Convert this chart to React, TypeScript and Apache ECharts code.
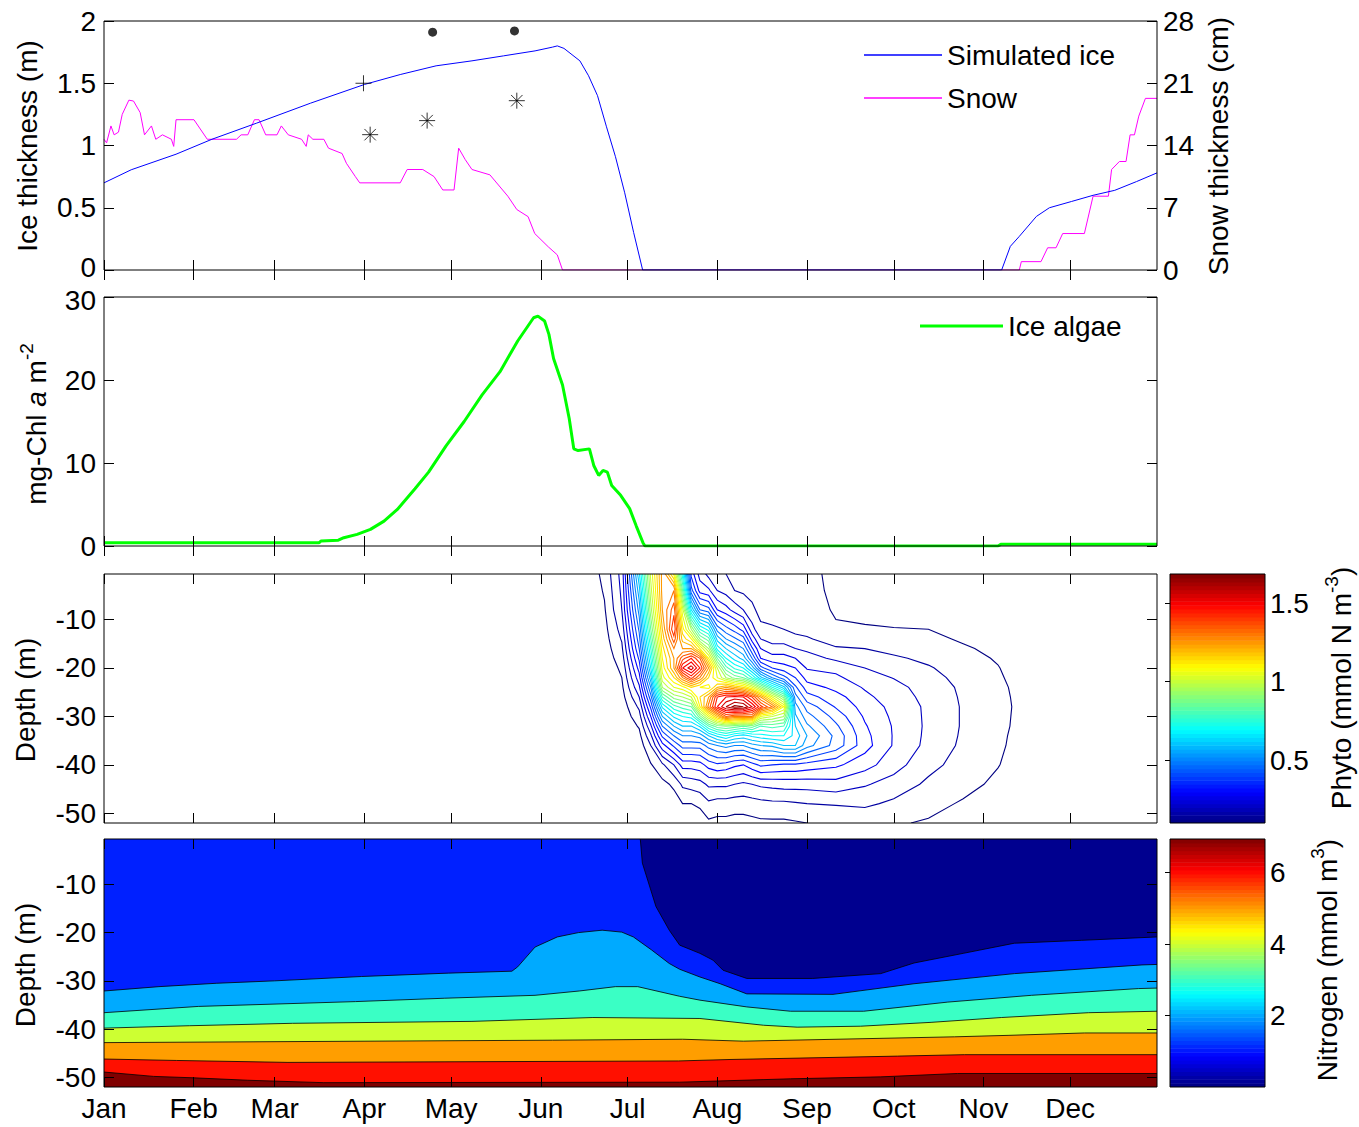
import React, { useEffect, useRef } from 'react';
import * as echarts from 'echarts';

const FONT = '"Liberation Sans", Arial, Helvetica, sans-serif';
const FS = 28;

// ---------- shared x axis (day of year) ----------
const MONTH_TICKS = [1, 32, 60, 91, 121, 152, 182, 213, 244, 274, 305, 335];
const MONTH_LABELS = ['Jan', 'Feb', 'Mar', 'Apr', 'May', 'Jun', 'Jul', 'Aug', 'Sep', 'Oct', 'Nov', 'Dec'];

// ---------- panel 1: ice & snow ----------
const ICE_DAYS = [1, 10.4, 25.9, 38.3, 53.8, 72.4, 91, 103.4, 115.8, 128.2, 139.1, 150, 156, 157.7, 160, 165.5, 168.5, 171.6, 174.7, 177.8, 181, 184.1, 187.2, 311.3, 314.3, 317.4, 323.3, 327.8, 335.4, 342.9, 350.4, 357.9, 365];
const ICE_M = [0.70, 0.805, 0.93, 1.05, 1.18, 1.34, 1.49, 1.57, 1.64, 1.68, 1.72, 1.76, 1.79, 1.80, 1.78, 1.68, 1.56, 1.40, 1.15, 0.91, 0.62, 0.30, 0, 0, 0.19, 0.27, 0.43, 0.50, 0.55, 0.60, 0.64, 0.71, 0.78];

const SNOW_DAYS = [1, 1.9, 3.4, 4.5, 6, 7.3, 9.6, 11.2, 13.5, 15, 17.4, 18.9, 21.2, 24.3, 25.1, 25.9, 32.1, 36.7, 46.8, 48.4, 50.7, 53, 54.6, 56.9, 60.8, 62.3, 64.7, 69.3, 70.9, 71.6, 73.2, 77, 78.6, 83.3, 84.8, 87.9, 89.4, 103.4, 105.8, 111.2, 115.1, 118.1, 122, 123.6, 125.9, 128.2, 134.4, 140.6, 143.7, 147.6, 149.9, 154.6, 157.7, 159.5, 317.4, 318.1, 324.9, 327.2, 330.1, 332.4, 339.9, 342.9, 348.2, 349.3, 352, 354.3, 355.7, 357.2, 358.7, 361, 365];
const SNOW_CM = [14.7, 14.3, 16.2, 15.2, 15.5, 17.5, 19.1, 19.0, 17.7, 15.2, 16.2, 14.7, 15.2, 14.7, 13.9, 16.9, 16.9, 14.7, 14.7, 15.2, 15.2, 16.9, 16.9, 15.2, 15.2, 16.2, 15.2, 14.7, 13.9, 15.2, 14.7, 14.7, 13.7, 13.1, 12.0, 10.5, 9.8, 9.8, 11.3, 11.3, 10.5, 9.0, 9.0, 13.7, 12.4, 11.3, 10.7, 8.3, 6.8, 6.0, 4.1, 2.6, 1.7, 0, 0, 0.94, 0.94, 2.5, 2.5, 4.1, 4.1, 8.3, 8.3, 11.3, 12.2, 12.2, 15.2, 15.2, 17.3, 19.3, 19.3];

const OBS_DOT_DAYS = [114.6, 142.9];
const OBS_DOT_M = [1.91, 1.92];
const OBS_PLUS_DAYS = [90.7];
const OBS_PLUS_M = [1.50];
const OBS_STAR_DAYS = [93.0, 112.7, 143.7];
const OBS_STAR_M = [1.087, 1.20, 1.36];

// ---------- panel 2: ice algae ----------
const ALGAE_DAYS = [1, 75.4, 76, 82, 83.9, 88.5, 93.1, 97.8, 102.4, 108.5, 113.2, 119.3, 125.5, 131.7, 137.9, 144, 149.5, 151, 153.3, 154.8, 156.4, 159.5, 161.8, 163.4, 164.9, 168.8, 170.3, 172, 173.5, 175, 176.5, 179.6, 182.7, 185, 187.3, 188, 310, 311, 365];
const ALGAE_CHL = [0.4, 0.4, 0.6, 0.7, 1.0, 1.4, 2.0, 3.0, 4.4, 6.9, 8.9, 12.1, 15.0, 18.2, 21.0, 24.7, 27.5, 27.7, 27.1, 25.5, 22.6, 19.4, 15.4, 11.7, 11.5, 11.7, 9.7, 8.5, 9.1, 8.9, 7.3, 6.1, 4.5, 2.4, 0.4, 0, 0, 0.2, 0.2];

// ---------- panel 3: phytoplankton field (one array per day column, values down the depth rows) ----------
const PHYTO_DAYS = [168, 174, 180, 186, 190, 194, 198, 201, 204, 207, 210, 213, 216, 219, 222, 225, 228, 232, 236, 240, 244, 254, 264, 274, 286, 298, 310, 318, 326];
const PHYTO_DEPTHS = [0, -4, -8, -12, -14, -16, -18, -20, -22, -24, -26, -28, -30, -32, -34, -36, -40, -44, -48, -52];
const PHYTO_GRID = [
  [0.07, 0.065, 0.06, 0.055, 0.052, 0.05, 0.048, 0.045, 0.043, 0.04, 0.038, 0.035, 0.033, 0.03, 0.03, 0.03, 0.03, 0.03, 0.03, 0.03],
  [0.115, 0.105, 0.095, 0.085, 0.08, 0.075, 0.07, 0.065, 0.06, 0.055, 0.052, 0.05, 0.045, 0.04, 0.04, 0.04, 0.035, 0.035, 0.03, 0.03],
  [0.22, 0.21, 0.2, 0.17, 0.155, 0.14, 0.125, 0.11, 0.1, 0.09, 0.08, 0.07, 0.065, 0.06, 0.055, 0.05, 0.045, 0.04, 0.035, 0.03],
  [0.65, 0.58, 0.52, 0.46, 0.43, 0.4, 0.36, 0.32, 0.28, 0.24, 0.2, 0.16, 0.13, 0.105, 0.085, 0.07, 0.055, 0.045, 0.04, 0.035],
  [1.02, 0.98, 0.93, 0.85, 0.8, 0.75, 0.7, 0.65, 0.58, 0.5, 0.43, 0.36, 0.3, 0.24, 0.19, 0.15, 0.095, 0.07, 0.05, 0.045],
  [1.27, 1.27, 1.25, 1.2, 1.17, 1.13, 1.1, 1.07, 1.03, 0.95, 0.8, 0.66, 0.55, 0.45, 0.36, 0.28, 0.14, 0.085, 0.06, 0.045],
  [1.05, 1.3, 1.38, 1.45, 1.38, 1.3, 1.25, 1.25, 1.15, 1.05, 0.92, 0.78, 0.66, 0.55, 0.45, 0.36, 0.2, 0.11, 0.075, 0.055],
  [0.7, 0.85, 1.02, 1.12, 1.18, 1.25, 1.38, 1.5, 1.3, 1.08, 0.95, 0.82, 0.7, 0.6, 0.5, 0.42, 0.27, 0.16, 0.1, 0.065],
  [0.32, 0.42, 0.65, 0.95, 1.1, 1.25, 1.45, 1.58, 1.42, 1.15, 1.0, 0.85, 0.72, 0.6, 0.5, 0.42, 0.27, 0.17, 0.1, 0.065],
  [0.22, 0.28, 0.45, 0.75, 0.9, 1.1, 1.35, 1.45, 1.3, 1.1, 1.15, 1.1, 0.88, 0.66, 0.52, 0.42, 0.28, 0.18, 0.11, 0.07],
  [0.17, 0.26, 0.42, 0.68, 0.82, 0.95, 1.1, 1.25, 1.15, 1.08, 1.25, 1.32, 1.05, 0.8, 0.6, 0.47, 0.32, 0.21, 0.14, 0.09],
  [0.16, 0.2, 0.3, 0.48, 0.58, 0.68, 0.85, 1.0, 1.05, 1.2, 1.45, 1.5, 1.2, 0.88, 0.66, 0.5, 0.34, 0.21, 0.13, 0.085],
  [0.145, 0.18, 0.27, 0.42, 0.5, 0.6, 0.7, 0.82, 0.95, 1.25, 1.5, 1.6, 1.35, 0.9, 0.7, 0.52, 0.33, 0.21, 0.13, 0.085],
  [0.14, 0.15, 0.23, 0.38, 0.46, 0.55, 0.63, 0.74, 0.88, 1.2, 1.52, 1.67, 1.3, 0.88, 0.65, 0.5, 0.31, 0.2, 0.125, 0.08],
  [0.135, 0.14, 0.2, 0.33, 0.42, 0.5, 0.58, 0.7, 0.85, 1.15, 1.5, 1.65, 1.3, 0.85, 0.63, 0.5, 0.3, 0.19, 0.125, 0.08],
  [0.13, 0.135, 0.16, 0.22, 0.28, 0.36, 0.45, 0.58, 0.75, 1.05, 1.4, 1.55, 1.3, 0.88, 0.66, 0.53, 0.33, 0.2, 0.13, 0.085],
  [0.125, 0.13, 0.135, 0.16, 0.2, 0.25, 0.3, 0.42, 0.62, 0.92, 1.25, 1.42, 1.05, 0.8, 0.68, 0.55, 0.36, 0.21, 0.135, 0.09],
  [0.122, 0.127, 0.132, 0.155, 0.18, 0.22, 0.27, 0.35, 0.5, 0.75, 1.05, 1.3, 1.0, 0.82, 0.7, 0.56, 0.35, 0.215, 0.14, 0.09],
  [0.12, 0.125, 0.13, 0.15, 0.18, 0.22, 0.27, 0.32, 0.42, 0.62, 0.88, 1.1, 0.95, 0.8, 0.7, 0.6, 0.34, 0.22, 0.14, 0.09],
  [0.115, 0.12, 0.125, 0.14, 0.16, 0.2, 0.25, 0.3, 0.35, 0.41, 0.47, 0.52, 0.56, 0.6, 0.63, 0.6, 0.34, 0.22, 0.145, 0.095],
  [0.11, 0.115, 0.12, 0.135, 0.155, 0.19, 0.22, 0.245, 0.28, 0.325, 0.37, 0.43, 0.47, 0.51, 0.55, 0.52, 0.33, 0.22, 0.15, 0.1],
  [0.09, 0.09, 0.095, 0.105, 0.13, 0.155, 0.19, 0.235, 0.26, 0.285, 0.32, 0.345, 0.38, 0.41, 0.435, 0.43, 0.31, 0.23, 0.155, 0.1],
  [0.08, 0.08, 0.085, 0.105, 0.128, 0.15, 0.175, 0.2, 0.222, 0.245, 0.262, 0.28, 0.293, 0.305, 0.315, 0.32, 0.27, 0.205, 0.16, 0.11],
  [0.075, 0.075, 0.08, 0.102, 0.118, 0.135, 0.158, 0.18, 0.198, 0.215, 0.225, 0.235, 0.24, 0.245, 0.246, 0.245, 0.22, 0.18, 0.14, 0.105],
  [0.07, 0.07, 0.075, 0.1, 0.11, 0.12, 0.138, 0.155, 0.168, 0.18, 0.185, 0.19, 0.19, 0.19, 0.188, 0.185, 0.165, 0.14, 0.115, 0.095],
  [0.06, 0.06, 0.065, 0.085, 0.095, 0.105, 0.115, 0.125, 0.133, 0.14, 0.143, 0.145, 0.145, 0.145, 0.143, 0.14, 0.13, 0.115, 0.095, 0.08],
  [0.05, 0.05, 0.055, 0.07, 0.08, 0.09, 0.096, 0.102, 0.106, 0.11, 0.113, 0.115, 0.114, 0.113, 0.11, 0.108, 0.102, 0.09, 0.075, 0.065],
  [0.04, 0.04, 0.045, 0.055, 0.062, 0.07, 0.075, 0.08, 0.084, 0.088, 0.089, 0.09, 0.089, 0.088, 0.086, 0.085, 0.08, 0.07, 0.06, 0.05],
  [0.03, 0.03, 0.035, 0.04, 0.045, 0.05, 0.055, 0.06, 0.062, 0.065, 0.068, 0.07, 0.069, 0.068, 0.066, 0.065, 0.06, 0.055, 0.045, 0.04],
];
const PHYTO_LEVELS = [0.1, 0.15, 0.2, 0.25, 0.3, 0.35, 0.4, 0.45, 0.5, 0.55, 0.6, 0.65, 0.7, 0.75, 0.8, 0.85, 0.9, 0.95, 1.0, 1.05, 1.1, 1.15, 1.2, 1.25, 1.3, 1.35, 1.4, 1.45, 1.5, 1.55, 1.6, 1.65];
const PHYTO_RANGE = [0.098, 1.687];
const PHYTO_CBAR_TICKS = [0.5, 1, 1.5];

// ---------- panel 4: nitrogen filled contours (level boundaries: [day, depth]) ----------
const NITRO_B1 = [[186.3, 0], [187.1, -5.6], [191.8, -14.6], [196.4, -19.5], [200, -22.6], [207, -24.3], [211.5, -25.7], [215, -27.8], [223.2, -29.5], [246, -29.5], [269.5, -28.5], [281, -26.3], [298, -24.3], [315.7, -22.2], [339, -21.6], [365, -20.9]];
const NITRO_B2 = [[1, -32.1], [20, -31.2], [40, -30.5], [60, -30.0], [90, -29.1], [120, -28.4], [142, -28.0], [144, -27.1], [150, -23.0], [157.7, -20.9], [165, -20.0], [173.2, -19.5], [180, -19.9], [184, -20.9], [190.3, -23.6], [196.4, -26.4], [200, -27.6], [207, -29.2], [214, -30.6], [223.2, -32.7], [253, -32.8], [281, -30.6], [315.7, -28.5], [359.8, -26.7], [365, -26.6]];
const NITRO_B3 = [[1, -36.6], [33.6, -35.3], [87.9, -34.3], [118.8, -33.6], [150, -33.0], [165.3, -32.1], [177.8, -31.2], [185.5, -31.2], [200, -33.2], [207, -34.0], [223.2, -35.4], [238.3, -36.3], [263.6, -36.3], [292.7, -34.4], [321.6, -33.0], [358.6, -31.6], [365, -31.5]];
const NITRO_B4 = [[1, -39.8], [30.5, -39.3], [66.2, -38.8], [128.2, -38.4], [170, -37.6], [207, -37.8], [229, -39.2], [240.6, -39.6], [262.5, -39.4], [286.9, -38.6], [311.2, -37.6], [341.3, -36.6], [365, -36.3]];
const NITRO_B5 = [[1, -42.8], [156, -42.3], [201, -42.1], [222, -42.5], [295, -41.6], [313.5, -41.3], [340, -40.8], [365, -40.8]];
const NITRO_B6 = [[1, -46.2], [26, -46.5], [64.6, -46.9], [199.6, -46.6], [217.4, -46.3], [275.3, -45.6], [298.4, -45.3], [365, -45.3]];
const NITRO_B7 = [[1, -48.9], [18.1, -49.8], [32.1, -50.1], [50.7, -50.6], [77, -51.1], [200, -51.0], [238.3, -50.3], [269.5, -49.9], [296, -49.2], [365, -49.2]];
const NITRO_BOUNDARIES = [NITRO_B1, NITRO_B2, NITRO_B3, NITRO_B4, NITRO_B5, NITRO_B6, NITRO_B7];
const NITRO_COLORS = ['#00008F', '#0020FF', '#00AAFF', '#3AFFC5', '#CDFF32', '#FF9E00', '#FF1000', '#800000'];
const NITRO_RANGE = [0, 6.94];
const NITRO_CBAR_TICKS = [2, 4, 6];

const DEPTH_TICKS = [-50, -40, -30, -20, -10];
const DEPTH_MIN = -52;
const DEPTH_MAX = -0.6;

// ---------- helpers ----------
function jet(t: number): string {
  const x = Math.max(0, Math.min(1, t));
  const c = (v: number) => Math.round(255 * Math.max(0, Math.min(1, v)));
  const r = c(Math.min(4 * x - 1.5, -4 * x + 4.5));
  const g = c(Math.min(4 * x - 0.5, -4 * x + 3.5));
  const b = c(Math.min(4 * x + 0.5, -4 * x + 2.5));
  return `rgb(${r},${g},${b})`;
}

const zip = (xs: number[], ys: number[]) => xs.map((x, i) => [x, ys[i]]);

function contourSegments(level: number) {
  const G = PHYTO_GRID;
  const segs: number[][][] = [];
  const hEdge = (i: number, j: number) => {
    const v1 = G[i][j], v2 = G[i + 1][j];
    const t = (level - v1) / (v2 - v1);
    return [PHYTO_DAYS[i] + t * (PHYTO_DAYS[i + 1] - PHYTO_DAYS[i]), PHYTO_DEPTHS[j]];
  };
  const vEdge = (i: number, j: number) => {
    const v1 = G[i][j], v2 = G[i][j + 1];
    const t = (level - v1) / (v2 - v1);
    return [PHYTO_DAYS[i], PHYTO_DEPTHS[j] + t * (PHYTO_DEPTHS[j + 1] - PHYTO_DEPTHS[j])];
  };
  for (let i = 0; i < PHYTO_DAYS.length - 1; i++) {
    for (let j = 0; j < PHYTO_DEPTHS.length - 1; j++) {
      const a = G[i][j], b = G[i + 1][j], c = G[i + 1][j + 1], d = G[i][j + 1];
      const A = a >= level, B = b >= level, C = c >= level, D = d >= level;
      const top = A !== B ? hEdge(i, j) : null;
      const right = B !== C ? vEdge(i + 1, j) : null;
      const bottom = D !== C ? hEdge(i, j + 1) : null;
      const left = A !== D ? vEdge(i, j) : null;
      const list = [top, right, bottom, left].filter(Boolean) as number[][];
      if (list.length === 2) segs.push(list);
      else if (list.length === 4) {
        const center = (a + b + c + d) / 4 >= level;
        if (A && C) {
          if (center) { segs.push([top!, right!]); segs.push([bottom!, left!]); }
          else { segs.push([top!, left!]); segs.push([right!, bottom!]); }
        } else {
          if (center) { segs.push([top!, left!]); segs.push([right!, bottom!]); }
          else { segs.push([top!, right!]); segs.push([bottom!, left!]); }
        }
      }
    }
  }
  return segs;
}

function chainSegments(segs: number[][][]) {
  const key = (p: number[]) => p[0].toFixed(5) + ',' + p[1].toFixed(5);
  const adj = new Map<string, number[]>();
  segs.forEach((s, idx) => {
    for (const p of s) {
      const k = key(p);
      if (!adj.has(k)) adj.set(k, []);
      adj.get(k)!.push(idx);
    }
  });
  const used = new Array(segs.length).fill(false);
  const lines: number[][][] = [];
  for (let i = 0; i < segs.length; i++) {
    if (used[i]) continue;
    used[i] = true;
    const line = [segs[i][0], segs[i][1]];
    const extend = (atEnd: boolean) => {
      for (;;) {
        const end = atEnd ? line[line.length - 1] : line[0];
        const ek = key(end);
        const cands = adj.get(ek) || [];
        let next = -1;
        for (const c of cands) if (!used[c]) { next = c; break; }
        if (next < 0) break;
        used[next] = true;
        const s = segs[next];
        const other = key(s[0]) === ek ? s[1] : s[0];
        if (atEnd) line.push(other); else line.unshift(other);
      }
    };
    extend(true);
    extend(false);
    lines.push(line);
  }
  return lines;
}

// ---------- axes builders ----------
const TICK_LINE = { color: '#000', width: 1 };
const LABEL = { color: '#000', fontSize: FS, fontFamily: FONT };
const RICH_BASE = { fontSize: FS, fontFamily: FONT, color: '#000' };

function monthAxis(grid: number, position: string, labels: boolean) {
  return {
    type: 'value', gridIndex: grid, position, min: 1, max: 365, z: 10,
    axisLine: { show: false },
    axisTick: { show: true, inside: true, length: 10, lineStyle: TICK_LINE, customValues: MONTH_TICKS },
    axisLabel: labels
      ? { ...LABEL, margin: 7, customValues: MONTH_TICKS, formatter: (v: number) => MONTH_LABELS[MONTH_TICKS.indexOf(v)] ?? '' }
      : { show: false },
    splitLine: { show: false },
  };
}

function valueAxis(grid: number, position: string, min: number, max: number, interval: number, labels: boolean, extraLabel?: any) {
  return {
    type: 'value', gridIndex: grid, position, min, max, interval, z: 10,
    axisLine: { show: false },
    axisTick: { show: true, inside: true, length: 10, lineStyle: TICK_LINE },
    axisLabel: labels ? { ...LABEL, margin: position === 'left' ? 8 : 6, ...(extraLabel || {}) } : { show: false },
    splitLine: { show: false },
  };
}

function depthAxis(grid: number, position: string, labels: boolean) {
  return {
    type: 'value', gridIndex: grid, position, min: DEPTH_MIN, max: DEPTH_MAX, z: 10,
    axisLine: { show: false },
    axisTick: { show: true, inside: true, length: 10, lineStyle: TICK_LINE, customValues: DEPTH_TICKS },
    axisLabel: labels ? { ...LABEL, margin: 8, customValues: DEPTH_TICKS } : { show: false },
    splitLine: { show: false },
  };
}

function cbarAxis(grid: number, range: number[], ticks: number[]) {
  return {
    type: 'value', gridIndex: grid, position: 'right', min: range[0], max: range[1], z: 10,
    axisLine: { show: false },
    axisTick: { show: true, inside: true, length: 5, lineStyle: TICK_LINE, customValues: ticks },
    axisLabel: { ...LABEL, margin: 5, customValues: ticks },
    splitLine: { show: false },
  };
}

function colorbarSeries(xi: number, yi: number, range: number[]) {
  return {
    type: 'custom', xAxisIndex: xi, yAxisIndex: yi, silent: true, clip: true,
    data: [[0.5, (range[0] + range[1]) / 2]],
    renderItem: (params: any, api: any) => {
      const n = 64;
      const children: any[] = [];
      for (let k = 0; k < n; k++) {
        const v0 = range[0] + ((range[1] - range[0]) * k) / n;
        const v1 = range[0] + ((range[1] - range[0]) * (k + 1)) / n;
        const p0 = api.coord([0, v1]);
        const p1 = api.coord([1, v0]);
        children.push({
          type: 'rect',
          shape: { x: p0[0], y: p0[1], width: p1[0] - p0[0], height: p1[1] - p0[1] + 0.6 },
          style: { fill: jet((k + 0.5) / n) },
        });
      }
      return { type: 'group', children };
    },
  };
}

function vText(x: number, y: number, text: string, rich?: any) {
  return {
    type: 'text', x, y, rotation: Math.PI / 2, silent: true,
    style: {
      text, fill: '#000', fontSize: FS, fontFamily: FONT,
      align: 'center', verticalAlign: 'middle', textAlign: 'center', textVerticalAlign: 'middle',
      rich,
    },
  };
}

const SUP_RICH = {
  n: { fontSize: FS, fontFamily: FONT, lineHeight: 38, fill: '#000', color: '#000' },
  i: { fontSize: FS, fontFamily: FONT, fontStyle: 'italic', lineHeight: 38, fill: '#000', color: '#000' },
  s: { fontSize: 19, fontFamily: FONT, lineHeight: 19, verticalAlign: 'top', fill: '#000', color: '#000' },
};

function buildOption(): any {
  const grids = [
    { left: 104, top: 21, width: 1053, height: 249 },
    { left: 104, top: 297, width: 1053, height: 249 },
    { left: 104, top: 574, width: 1053, height: 249 },
    { left: 104, top: 839, width: 1053, height: 248 },
    { left: 1170, top: 574, width: 95, height: 249 },
    { left: 1170, top: 839, width: 95, height: 248 },
  ].map((g) => ({ ...g, show: true, z: 10, borderColor: '#000', borderWidth: 1, backgroundColor: 'transparent' }));

  const xAxis: any[] = [];
  for (let g = 0; g < 4; g++) xAxis.push(monthAxis(g, 'bottom', g === 3));
  for (let g = 0; g < 4; g++) xAxis.push(monthAxis(g, 'top', false));
  xAxis.push({ type: 'value', gridIndex: 4, min: 0, max: 1, show: false });
  xAxis.push({ type: 'value', gridIndex: 5, min: 0, max: 1, show: false });

  // the two labels that meet at the panel 1 / panel 2 boundary are nudged apart slightly
  const iceLabel = {
    formatter: (v: number) => (v === 0 ? '{lo|0}' : String(v)),
    rich: { lo: { ...RICH_BASE, padding: [0, 0, 6, 0] } },
  };
  const chlLabel = {
    formatter: (v: number) => (v === 30 ? '{hi|30}' : String(v)),
    rich: { hi: { ...RICH_BASE, padding: [6, 0, 0, 0] } },
  };

  const yAxis: any[] = [
    valueAxis(0, 'left', 0, 2, 0.5, true, iceLabel),
    valueAxis(0, 'right', 0, 28, 7, true),
    valueAxis(1, 'left', 0, 30, 10, true, chlLabel),
    valueAxis(1, 'right', 0, 30, 10, false),
    depthAxis(2, 'left', true),
    depthAxis(2, 'right', false),
    depthAxis(3, 'left', true),
    depthAxis(3, 'right', false),
    cbarAxis(4, PHYTO_RANGE, PHYTO_CBAR_TICKS),
    cbarAxis(5, NITRO_RANGE, NITRO_CBAR_TICKS),
  ];

  const asterisk = 'path://M8,0L8,16M0,8L16,8M2.3,2.3L13.7,13.7M2.3,13.7L13.7,2.3';
  const plus = 'path://M8,0L8,16M0,8L16,8';

  const series: any[] = [
    {
      name: 'Simulated ice', type: 'line', xAxisIndex: 0, yAxisIndex: 0, data: zip(ICE_DAYS, ICE_M),
      symbol: 'none', color: '#0000FF', lineStyle: { color: '#0000FF', width: 1 }, z: 3,
    },
    {
      name: 'Snow', type: 'line', xAxisIndex: 0, yAxisIndex: 1, data: zip(SNOW_DAYS, SNOW_CM),
      symbol: 'none', color: '#FF00FF', lineStyle: { color: '#FF00FF', width: 1 }, z: 2,
    },
    {
      name: 'obs-dot', type: 'scatter', xAxisIndex: 0, yAxisIndex: 0, data: zip(OBS_DOT_DAYS, OBS_DOT_M),
      symbol: 'circle', symbolSize: 9, itemStyle: { color: '#000' }, z: 4,
    },
    {
      name: 'obs-plus', type: 'scatter', xAxisIndex: 0, yAxisIndex: 0, data: zip(OBS_PLUS_DAYS, OBS_PLUS_M),
      symbol: plus, symbolSize: 16, itemStyle: { color: 'transparent', borderColor: '#000', borderWidth: 1 }, z: 4,
    },
    {
      name: 'obs-star', type: 'scatter', xAxisIndex: 0, yAxisIndex: 0, data: zip(OBS_STAR_DAYS, OBS_STAR_M),
      symbol: asterisk, symbolSize: 16, itemStyle: { color: 'transparent', borderColor: '#000', borderWidth: 1 }, z: 4,
    },
    {
      name: 'Ice algae', type: 'line', xAxisIndex: 1, yAxisIndex: 2, data: zip(ALGAE_DAYS, ALGAE_CHL),
      symbol: 'none', color: '#00FF00', lineStyle: { color: '#00FF00', width: 3 }, z: 3,
    },
    {
      name: 'phyto', type: 'custom', xAxisIndex: 2, yAxisIndex: 4, silent: true, clip: true,
      data: [[220, -25]],
      renderItem: (params: any, api: any) => {
        const cs = params.coordSys;
        const children: any[] = [];
        for (const L of PHYTO_LEVELS) {
          const color = jet((L - PHYTO_RANGE[0]) / (PHYTO_RANGE[1] - PHYTO_RANGE[0]));
          const lines = chainSegments(contourSegments(L));
          for (const line of lines) {
            children.push({
              type: 'polyline',
              shape: { points: line.map((p) => api.coord(p)) },
              style: { stroke: color, fill: null, lineWidth: 1.1 },
            });
          }
        }
        return {
          type: 'group', children,
          clipPath: { type: 'rect', shape: { x: cs.x, y: cs.y, width: cs.width, height: cs.height } },
        };
      },
    },
    {
      name: 'nitrogen', type: 'custom', xAxisIndex: 3, yAxisIndex: 6, silent: true, clip: true,
      data: [[200, -25]],
      renderItem: (params: any, api: any) => {
        const cs = params.coordSys;
        const children: any[] = [];
        children.push({ type: 'rect', shape: { x: cs.x, y: cs.y, width: cs.width, height: cs.height }, style: { fill: NITRO_COLORS[1] } });
        for (let k = 1; k < NITRO_BOUNDARIES.length; k++) {
          const b = NITRO_BOUNDARIES[k];
          const pts = [...b.map((p) => api.coord(p)), api.coord([365, -54]), api.coord([1, -54])];
          children.push({ type: 'polygon', shape: { points: pts }, style: { fill: NITRO_COLORS[k + 1] } });
        }
        const a = NITRO_BOUNDARIES[0];
        children.push({
          type: 'polygon',
          shape: { points: [...a.map((p) => api.coord(p)), api.coord([365, 2]), api.coord([a[0][0], 2])] },
          style: { fill: NITRO_COLORS[0] },
        });
        for (const b of NITRO_BOUNDARIES) {
          children.push({
            type: 'polyline',
            shape: { points: b.map((p) => api.coord(p)) },
            style: { stroke: '#000', fill: null, lineWidth: 0.8 },
          });
        }
        return {
          type: 'group', children,
          clipPath: { type: 'rect', shape: { x: cs.x, y: cs.y, width: cs.width, height: cs.height } },
        };
      },
    },
    colorbarSeries(8, 8, PHYTO_RANGE),
    colorbarSeries(9, 9, NITRO_RANGE),
  ];

  const legendText = { color: '#000', fontSize: FS, fontFamily: FONT, lineHeight: 30 };

  return {
    animation: false,
    backgroundColor: '#fff',
    grid: grids,
    xAxis,
    yAxis,
    legend: [
      {
        data: ['Simulated ice', 'Snow'], left: 864, top: 40, orient: 'vertical', padding: 0,
        itemWidth: 78, itemHeight: 1.5, itemGap: 13, icon: 'rect', selectedMode: false, textStyle: legendText,
      },
      {
        data: ['Ice algae'], left: 920, top: 311, orient: 'vertical', padding: 0,
        itemWidth: 83, itemHeight: 3, icon: 'rect', selectedMode: false, textStyle: legendText,
      },
    ],
    graphic: [
      vText(27, 146, 'Ice thickness (m)'),
      vText(1218, 146, 'Snow thickness (cm)'),
      vText(36, 424, '{n|mg-Chl }{i|a}{n| m}{s|-2}', SUP_RICH),
      vText(25, 700, 'Depth (m)'),
      vText(25, 965, 'Depth (m)'),
      vText(1341, 688, '{n|Phyto (mmol N m}{s|-3}{n|)}', SUP_RICH),
      vText(1327, 960, '{n|Nitrogen (mmol m}{s|3}{n|)}', SUP_RICH),
    ],
    series,
  };
}

export default function App() {
  const ref = useRef<HTMLDivElement>(null);
  useEffect(() => {
    if (!ref.current) return;
    const chart = echarts.init(ref.current, null, { renderer: 'svg' });
    chart.setOption(buildOption());
    return () => chart.dispose();
  }, []);
  return (
    <div
      ref={ref}
      style={{ position: 'fixed', left: 0, top: 0, width: 1359, height: 1127, background: '#fff' }}
    />
  );
}
